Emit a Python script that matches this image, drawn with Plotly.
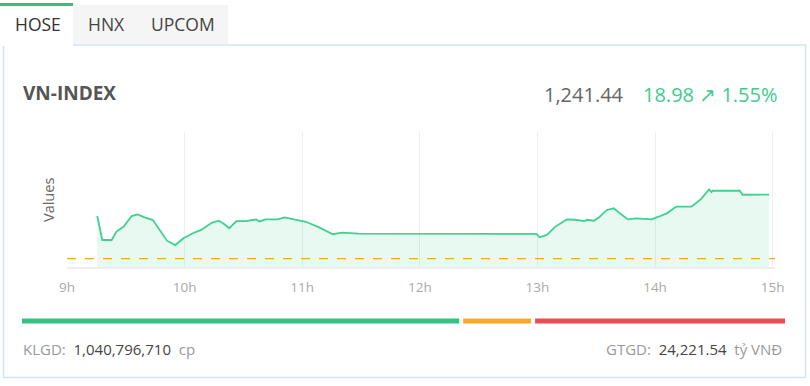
import plotly.graph_objects as go

# ---------------- data ----------------
times = [9.257, 9.30, 9.38, 9.42, 9.48, 9.55, 9.60, 9.66, 9.73, 9.79, 9.85, 9.92,
         9.99, 10.07, 10.14, 10.23, 10.29, 10.33, 10.38, 10.44, 10.52, 10.61,
         10.635, 10.69, 10.79, 10.85, 10.95, 11.03, 11.14, 11.26, 11.34, 11.48,
         12.99, 13.02, 13.08, 13.15, 13.25, 13.32, 13.40, 13.42, 13.48, 13.53,
         13.59, 13.65, 13.70, 13.77, 13.84, 13.97, 14.03, 14.10, 14.18, 14.31,
         14.39, 14.46, 14.48, 14.49, 14.72, 14.745, 14.97]
values = [1235.1, 1228.0, 1228.0, 1230.5, 1231.9, 1235.1, 1235.6, 1234.7, 1233.9,
          1231.0, 1227.8, 1226.5, 1228.5, 1230.0, 1231.0, 1233.1, 1233.7, 1232.9,
          1231.5, 1233.6, 1233.6, 1234.1, 1233.5, 1234.1, 1234.1, 1234.7, 1233.9,
          1233.4, 1231.8, 1229.7, 1230.2, 1229.9, 1229.8, 1228.8, 1229.5, 1231.9,
          1234.1, 1234.0, 1233.6, 1234.0, 1233.7, 1234.9, 1236.9, 1237.4, 1235.9,
          1234.1, 1234.4, 1234.1, 1234.9, 1235.9, 1237.9, 1237.9, 1240.1, 1243.0,
          1242.2, 1242.6, 1242.6, 1241.4, 1241.44]
reference = 1222.46
tick_vals = [9, 10, 11, 12, 13, 14, 15]
tick_text = ["9h", "10h", "11h", "12h", "13h", "14h", "15h"]
tabs = ["HOSE", "HNX", "UPCOM"]
index_name = "VN-INDEX"
index_value = "1,241.44"
index_change = "18.98 ↗ 1.55%"
breadth = [0.579, 0.090, 0.331]          # share of green / orange / red
breadth_colors = ["#33c481", "#ffa726", "#ee4b57"]
klgd = "1,040,796,710"
gtgd = "24,221.54"

# ---------------- geometry helpers ----------------
W, H = 810, 386
L, R, T, B = 67, 775, 132, 267
pw, ph = R - L, B - T
def px(x): return (x - L) / pw
def py(y): return 1 - (y - T) / ph

FONT = "Open Sans"
fig = go.Figure()
fig.add_trace(go.Scatter(
    x=times, y=values, mode="lines",
    line=dict(color="#40d08f", width=1.8),
    fill="tozeroy", fillcolor="rgba(67,207,143,0.12)",
    hoverinfo="skip", showlegend=False))

shapes = []
# card
shapes.append(dict(type="rect", xref="paper", yref="paper",
                   x0=px(3.5), x1=px(805.5), y0=py(45), y1=py(377.5),
                   line=dict(color="#d3e3f5", width=1.5), fillcolor="rgba(0,0,0,0)", layer="below"))
# inactive tabs bg
shapes.append(dict(type="rect", xref="paper", yref="paper",
                   x0=px(73), x1=px(228), y0=py(5), y1=py(44),
                   line=dict(width=0), fillcolor="#f5f5f5", layer="below"))
# active tab white cover over card top border
shapes.append(dict(type="rect", xref="paper", yref="paper",
                   x0=px(0), x1=px(73), y0=py(5), y1=py(46),
                   line=dict(width=0), fillcolor="#ffffff", layer="below"))
shapes.append(dict(type="line", xref="paper", yref="paper",
                   x0=px(0), x1=px(73), y0=py(4.5), y1=py(4.5),
                   line=dict(color="#2fc27a", width=3)))
# reference dashed line
shapes.append(dict(type="line", xref="paper", yref="y",
                   x0=0, x1=1, y0=reference, y1=reference,
                   line=dict(color="#f5a623", width=1.3, dash="dash")))
# breadth bar
bx0, bx1, gap = 22, 785, 4
avail = bx1 - bx0 - gap * (len(breadth) - 1)
cur = bx0
for share, col in zip(breadth, breadth_colors):
    w = avail * share
    shapes.append(dict(type="line", xref="paper", yref="paper",
                       x0=px(cur), x1=px(cur + w), y0=py(321), y1=py(321),
                       line=dict(color=col, width=5)))
    cur += w + gap

ann = []
tab_x = [38, 106, 183]
for i, (t, x) in enumerate(zip(tabs, tab_x)):
    ann.append(dict(text=t, x=px(x), y=py(24), xref="paper", yref="paper",
                    showarrow=False, xanchor="center", yanchor="middle",
                    font=dict(family=FONT, size=17.5, color="#333" if i == 0 else "#444")))
ann.append(dict(text="<b>" + index_name + "</b>", x=px(21), y=py(93), xref="paper", yref="paper",
                showarrow=False, xanchor="left", yanchor="middle",
                font=dict(family=FONT, size=19, color="#555")))
ann.append(dict(text=index_value, x=px(626), y=py(94), xref="paper", yref="paper",
                showarrow=False, xanchor="right", yanchor="middle",
                font=dict(family=FONT, size=20, color="#666")))
ann.append(dict(text=index_change, x=px(779), y=py(94), xref="paper", yref="paper",
                showarrow=False, xanchor="right", yanchor="middle",
                font=dict(family=FONT, size=20, color="#3dcc8e")))
ann.append(dict(text="Values", x=px(48), y=py(200), xref="paper", yref="paper",
                showarrow=False, textangle=-90, xanchor="center", yanchor="middle",
                font=dict(family=FONT, size=14.5, color="#666")))
ann.append(dict(text='KLGD:  <span style="color:#444">' + klgd + '</span>  cp',
                x=px(21), y=py(349), xref="paper", yref="paper",
                showarrow=False, xanchor="left", yanchor="middle",
                font=dict(family=FONT, size=15, color="#999")))
ann.append(dict(text='GTGD:  <span style="color:#444">' + gtgd + '</span>  tỷ VNĐ',
                x=px(784), y=py(349), xref="paper", yref="paper",
                showarrow=False, xanchor="right", yanchor="middle",
                font=dict(family=FONT, size=15, color="#999")))

fig.update_layout(
    width=W, height=H, margin=dict(l=L, r=W - R, t=T, b=H - B),
    paper_bgcolor="#ffffff", plot_bgcolor="#ffffff",
    shapes=shapes, annotations=ann, showlegend=False,
    xaxis=dict(range=[9, 15.02], tickvals=tick_vals, ticktext=tick_text,
               showgrid=True, gridcolor="#eeeeee", gridwidth=1, zeroline=False,
               showline=True, linecolor="#eeeeee", linewidth=2,
               ticks="", ticklabelstandoff=7,
               tickfont=dict(family=FONT, size=13.5, color="#aaaaaa"), fixedrange=True),
    yaxis=dict(range=[1220, 1260], showgrid=False, zeroline=False, showticklabels=False,
               showline=False, fixedrange=True),
)
fig.write_html("out.html")
